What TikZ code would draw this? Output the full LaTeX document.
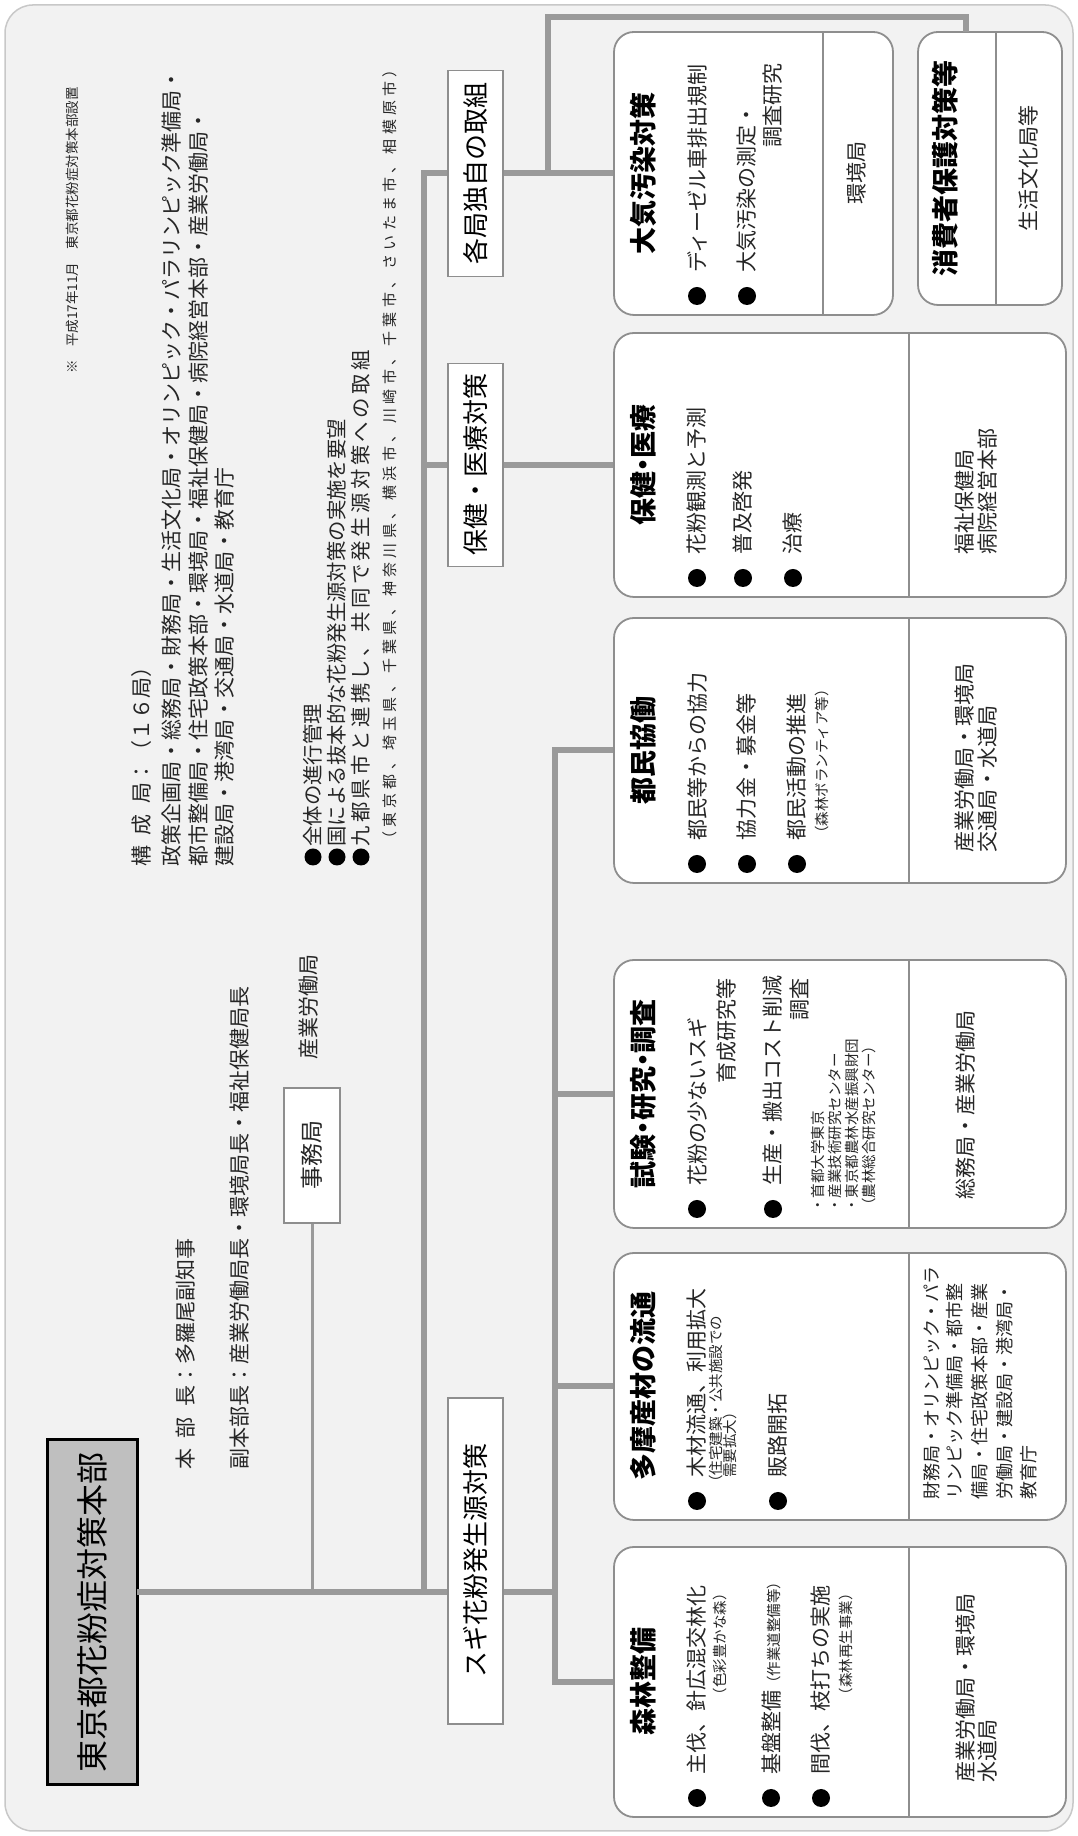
\documentclass[tikz,border=0pt]{standalone}
\usepackage{fontspec}
\setmainfont{Noto Sans CJK JP}
\newcommand{\fsz}[1]{\fontsize{#1}{#1}\selectfont}
\newcommand{\spreadtxt}[1]{\spreadi#1\relax}
\def\spreadi#1{\ifx\relax#1\else#1\hfil\expandafter\spreadi\fi}
\definecolor{bg}{HTML}{F2F2F2}
\definecolor{framec}{HTML}{C8C8C8}
\definecolor{linec}{HTML}{9A9A9A}
\definecolor{boxc}{HTML}{8E8E8E}
\definecolor{titlef}{HTML}{BFBFBF}
\definecolor{txt}{HTML}{262626}
\begin{document}
\begin{tikzpicture}[x=1pt,y=1pt,
  bus/.style={draw=linec,line width=6pt},
  thinln/.style={draw=linec,line width=3pt},
  bigbox/.style={draw=boxc,line width=1.8pt,fill=white,rounded corners=20pt,inner sep=0pt},
  divline/.style={draw=boxc,line width=1.8pt},
  lbl/.style={draw=boxc,line width=1.6pt,fill=white,inner sep=0pt,font=\fsz{26},text=black},
  ttl/.style={font=\bfseries\fsz{27},inner sep=0pt,text=black},
  bul/.style={circle,fill=black,minimum size=18pt,inner sep=0pt},
  tbul/.style={circle,fill=black,minimum size=17pt,inner sep=0pt},
  itm/.style={anchor=west,inner sep=0pt,font=\fsz{21},text=txt},
  itmr/.style={anchor=east,inner sep=0pt,font=\fsz{21},text=txt},
  sml/.style={anchor=west,inner sep=0pt,font=\fsz{14.5},text=txt},
  smlr/.style={anchor=east,inner sep=0pt,font=\fsz{14.5},text=txt},
  bur/.style={anchor=west,inner sep=0pt,font=\fsz{21},text=txt},
  burc/.style={inner sep=0pt,font=\fsz{21},text=txt},
]
\useasboundingbox (0,0) rectangle (1078,1836);
\begin{scope}[rotate=90,transform shape]
% frame
\path[fill=bg,draw=framec,line width=1.5pt,rounded corners=28pt] (5,-5) rectangle (1831,-1073);

% title
\node[draw=black,line width=3pt,fill=titlef,minimum width=345pt,minimum height=90pt,inner sep=0pt,font=\fsz{32}] (title) at (223.5,-92) {東京都花粉症対策本部};

% note
\node[anchor=east,inner sep=0pt,font=\fsz{13.5},text=txt] (note) at (1749,-72) {※　平成17年11月　東京都花粉症対策本部設置};

% composition
\node[itm] (k1) at (969,-142) {構\hspace{0.5em}成\hspace{0.5em}局：（１６局）};
\node[itm] (k2) at (969,-171) {政策企画局・総務局・財務局・生活文化局・オリンピック・パラリンピック準備局・};
\node[itm] (k3) at (969,-199) {都市整備局・住宅政策本部・環境局・福祉保健局・病院経営本部・産業労働局・};
\node[itm] (k4) at (969,-225) {建設局・港湾局・交通局・水道局・教育庁};

% top bullets
\node[tbul] (tb1) at (979,-313) {};
\node[itm,font=\fsz{20.4}] (tt1) at (989,-313) {全体の進行管理};
\node[tbul] (tb2) at (979,-337) {};
\node[itm,font=\fsz{20.4}] (tt2) at (989,-337) {国による抜本的な花粉発生源対策の実施を要望};
\node[tbul] (tb3) at (979,-361) {};
\node[itm,font=\fsz{20.4}] (tt3) at (989,-361) {\makebox[500pt][l]{\spreadtxt{九都県市と連携し、共同で発生源対策への取}組}};
\node[anchor=west,inner sep=0pt,font=\fsz{15},text=txt] (tp) at (989,-390) {\makebox[789pt][l]{\spreadtxt{（東京都、埼玉県、千葉県、神奈川県、横浜市、川崎市、千葉市、さいたま市、相模原市}）}};

% heads
\node[itm] (hbc) at (366,-186) {本\hspace{0.5em}部\hspace{0.5em}長：多羅尾副知事};
\node[itm] (fhbc) at (366,-240) {副本部長：産業労働局長・環境局長・福祉保健局長};

% secretariat
\node[draw=boxc,line width=1.5pt,fill=white,minimum width=135pt,minimum height=56pt,inner sep=0pt,font=\fsz{23},text=txt] (jimu) at (680.5,-312) {事務局};
\node[inner sep=0pt,font=\fsz{21},text=txt] (sangyo) at (828.5,-309) {産業労働局};

% big boxes
\node[bigbox,minimum width=264pt,minimum height=452pt] (hoken) at (1371,-840) {};
\node[bigbox,minimum width=265pt,minimum height=452pt] (tomin) at (1085.5,-840) {};
\node[bigbox,minimum width=268pt,minimum height=452pt] (shiken) at (742,-840) {};
\node[bigbox,minimum width=267pt,minimum height=452pt] (tama) at (449.5,-840) {};
\node[bigbox,minimum width=270pt,minimum height=452pt] (shinrin) at (154,-840) {};
\node[bigbox,minimum width=283pt,minimum height=279pt] (taiki) at (1662.5,-753.5) {};
\node[bigbox,minimum width=273pt,minimum height=144pt] (shohi) at (1667.5,-990) {};
\draw[divline] (1239,-909) -- (1503,-909);
\draw[divline] (953,-909) -- (1218,-909);
\draw[divline] (608,-909) -- (876,-909);
\draw[divline] (316,-909) -- (583,-909);
\draw[divline] (19,-909) -- (289,-909);
\draw[divline] (1521,-823) -- (1804,-823);
\draw[divline] (1531,-996) -- (1804,-996);

% junctions
\coordinate (m0) at (244,-137);
\coordinate (j1) at (244,-424);
\coordinate (j2) at (244,-555);
\coordinate (jm) at (244,-312);
\coordinate (tk) at (1662.5,-424);
\coordinate (hb0) at (1371,-424);
\coordinate (b1) at (1662.5,-548);
\coordinate (b2) at (1819,-548);
\coordinate (b3) at (1819,-966);
\coordinate (b4) at (1804,-966);
\coordinate (s1) at (1085.5,-555);
\coordinate (s2) at (742,-555);
\coordinate (s3) at (449.5,-555);
\coordinate (s4) at (154,-555);

% connectors
\draw[thinln] (jimu.west) -- (jm);
\draw[bus] (m0) -- (j2);
\draw[bus] (j1) -- (tk) -- (taiki.north);
\draw[bus] (hb0) -- (hoken.north);
\draw[bus] (b1) -- (b2) -- (b3) -- (b4);
\draw[bus] (tomin.north) -- (s1) -- (s4) -- (shinrin.north);
\draw[bus] (s2) -- (shiken.north);
\draw[bus] (s3) -- (tama.north);

% label boxes
\node[lbl,minimum width=206pt,minimum height=55pt] (kaku) at (1662.5,-475.5) {各局独自の取組};
\node[lbl,minimum width=203pt,minimum height=55pt] (hokenlbl) at (1371,-475.5) {保健・医療対策};
\node[lbl,minimum width=326pt,minimum height=55pt] (sugi) at (275,-475.5) {スギ花粉発生源対策};

% hoken box
\node[ttl] (hokenT) at (1371,-643) {保健\kern-.25em・\kern-.25em医療};
\node[bul] (hb1) at (1258,-697) {}; \node[itm] (hi1) at (1281,-697) {花粉観測と予測};
\node[bul] (hb2) at (1258,-743) {}; \node[itm] (hi2) at (1281,-743) {普及啓発};
\node[bul] (hb3) at (1258,-793) {}; \node[itm] (hi3) at (1281,-793) {治療};
\node[bur] (hr1) at (1281,-965) {福祉保健局};
\node[bur] (hr2) at (1281,-988) {病院経営本部};

% tomin box
\node[ttl] (tominT) at (1085.5,-643) {都民協働};
\node[bul] (tb1b) at (972,-697) {}; \node[itm] (ti1) at (995,-697) {都民等からの協力};
\node[bul] (tb2b) at (972,-747) {}; \node[itm] (ti2) at (995,-747) {協力金・募金等};
\node[bul] (tb3b) at (972,-797) {}; \node[itm] (ti3) at (995,-797) {都民活動の推進};
\node[sml] (ts3) at (995,-822) {（森林ボランティア等）};
\node[bur] (tr1) at (983,-965) {産業労働局・環境局};
\node[bur] (tr2) at (983,-988) {交通局・水道局};

% shiken box
\node[ttl] (shikenT) at (742,-643) {試験\kern-.25em・\kern-.25em研究\kern-.25em・\kern-.25em調査};
\node[bul] (sb1) at (627,-697) {}; \node[itm] (si1) at (650,-697) {花粉の少ないスギ};
\node[itmr] (si1b) at (858,-727) {育成研究等};
\node[bul] (sb2) at (627,-773) {}; \node[itm] (si2) at (650,-773) {生産・搬出コスト削減};
\node[itmr] (si2b) at (858,-800) {調査};
\node[sml] (ss1) at (623,-818) {・首都大学東京};
\node[sml] (ss2) at (623,-835) {・産業技術研究センター};
\node[sml] (ss3) at (623,-852) {・東京都農林水産振興財団};
\node[sml] (ss4) at (623,-869) {（農林総合研究センター）};
\node[bur] (sr1) at (636,-966) {総務局・産業労働局};

% tama box
\node[ttl] (tamaT) at (449.5,-643) {多摩産材の流通};
\node[bul] (mb1) at (335,-697) {}; \node[itm] (mi1) at (358,-697) {木材流通、利用拡大};
\node[sml] (ms1) at (346,-716) {（住宅建築・公共施設での};
\node[sml] (ms2) at (358,-730) {需要拡大）};
\node[bul] (mb2) at (335,-778) {}; \node[itm] (mi2) at (358,-778) {販路開拓};
\node[bur,font=\fsz{18}] (mr1) at (336,-932) {財務局・オリンピック・パラ};
\node[bur,font=\fsz{18}] (mr2) at (336,-955) {リンピック準備局・都市整};
\node[bur,font=\fsz{18}] (mr3) at (336,-980) {備局・住宅政策本部・産業};
\node[bur,font=\fsz{18}] (mr4) at (336,-1005) {労働局・建設局・港湾局・};
\node[bur,font=\fsz{18}] (mr5) at (336,-1029) {教育庁};

% shinrin box
\node[ttl] (shinrinT) at (154,-643) {森林整備};
\node[bul] (rb1) at (38,-697) {}; \node[itm] (ri1) at (61,-697) {主伐、針広混交林化};
\node[smlr] (rs1) at (250,-720) {（色彩豊かな森）};
\node[bul] (rb2) at (38,-771) {}; \node[itm] (ri2) at (61,-771) {基盤整備{\fsz{14.5}（作業道整備等）}};
\node[bul] (rb3) at (38,-821) {}; \node[itm] (ri3) at (61,-821) {間伐、枝打ちの実施};
\node[smlr] (rs3) at (250,-846) {（森林再生事業）};
\node[bur] (rr1) at (53,-966) {産業労働局・環境局};
\node[bur] (rr2) at (53,-988) {水道局};

% taiki box
\node[ttl] (taikiT) at (1662.5,-643) {大気汚染対策};
\node[bul] (ab1) at (1540,-697) {}; \node[itm] (ai1) at (1563,-697) {ディーゼル車排出規制};
\node[bul] (ab2) at (1540,-747) {}; \node[itm] (ai2) at (1563,-747) {大気汚染の測定・};
\node[itmr] (ai2b) at (1773,-773) {調査研究};
\node[burc] (ar1) at (1662.5,-857) {環境局};

% shohi box
\node[ttl] (shohiT) at (1667.5,-945) {消費者保護対策等};
\node[burc] (cr1) at (1667.5,-1028) {生活文化局等};
\end{scope}
\end{tikzpicture}
\end{document}
